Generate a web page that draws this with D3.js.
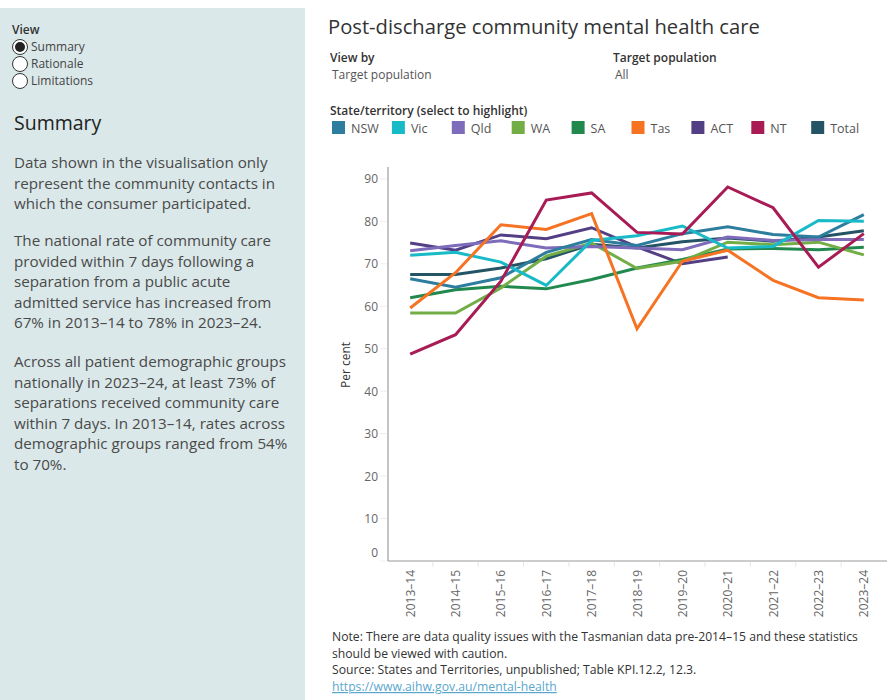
<!DOCTYPE html>
<html>
<head>
<meta charset="utf-8">
<script src="https://cdn.jsdelivr.net/npm/d3@7"></script>
<style>
  body { margin: 0; background: #fff; font-family: "Open Sans", "Noto Sans", sans-serif; }
  svg text { font-family: "Open Sans", "Noto Sans", sans-serif; }
</style>
</head>
<body>
<svg id="chart" width="890" height="700"></svg>
<script>
// categories and values
var years = ["2013–14","2014–15","2015–16","2016–17","2017–18","2018–19","2019–20","2020–21","2021–22","2022–23","2023–24"];
var states = ["NSW","Vic","Qld","WA","SA","Tas","ACT","NT","Total"];
var colors = ["#2d7d9f","#19bac8","#7e6bb9","#72ad45","#22894e","#f57323","#533f83","#a81b55","#245465"];

var nsw   = [66.5,64.5,66.7,72.7,75.7,74.3,77.1,78.7,76.9,76.3,81.6];
var vic   = [72.0,72.7,70.4,64.9,75.5,76.6,78.9,73.7,74.1,80.2,80.0];
var qld   = [73.1,74.3,75.4,73.7,74.1,73.7,73.3,76.3,75.5,75.7,75.7];
var wa    = [58.4,58.4,64.3,71.8,74.9,68.9,70.6,75.1,74.5,75.1,72.1];
var sa    = [62.0,63.9,64.7,64.1,66.3,69.0,71.0,73.5,73.6,73.3,73.9];
var tas   = [59.6,67.9,79.2,78.1,81.8,54.7,70.6,73.2,66.1,62.0,61.5];
var act   = [74.9,73.2,76.8,75.9,78.5,74.0,70.0,71.6,null,null,null];
var nt    = [48.7,53.3,65.9,85.0,86.7,77.4,77.0,88.1,83.2,69.2,77.1];
var total = [67.5,67.5,69.0,71.2,74.6,73.7,75.2,76.1,75.3,76.3,77.8];
var series = [nsw,vic,qld,wa,sa,tas,act,nt,total];
var yTicks = [0,10,20,30,40,50,60,70,80,90];

var svg = d3.select("#chart");

// ---- left panel
svg.append("rect").attr("x",0).attr("y",8).attr("width",305).attr("height",692).attr("fill","#dae8e9");
svg.append("text").attr("x",12).attr("y",34).text("View")
  .attr("font-size",12).attr("font-weight",600).attr("fill","#333");
var radios = ["Summary","Rationale","Limitations"];
radios.forEach(function(r,i){
  var cy = 47 + i*17;
  svg.append("circle").attr("cx",20).attr("cy",cy).attr("r",7.5)
    .attr("fill","#fff").attr("stroke","#333").attr("stroke-width",1);
  if (i==0) svg.append("circle").attr("cx",20).attr("cy",cy).attr("r",5).attr("fill","#222");
  svg.append("text").attr("x",31).attr("y",cy+4).text(r).attr("font-size",12).attr("fill","#444");
});
svg.append("text").attr("x",14).attr("y",130).text("Summary").attr("font-size",19.5).attr("fill","#222");

var paras = [
  ["Data shown in the visualisation only","represent the community contacts in","which the consumer participated."],
  ["The national rate of community care","provided within 7 days following a","separation from a public acute","admitted service has increased from","67% in 2013–14 to 78% in 2023–24."],
  ["Across all patient demographic groups","nationally in 2023–24, at least 73% of","separations received community care","within 7 days. In 2013–14, rates across","demographic groups ranged from 54%","to 70%."]
];
var paraTop = [168,246,367];
paras.forEach(function(p,i){
  p.forEach(function(line,j){
    svg.append("text").attr("x",14).attr("y",paraTop[i] + j*20.5).text(line)
      .attr("font-size",15.2).attr("fill","#4a4a4a");
  });
});

// ---- header
svg.append("text").attr("x",328).attr("y",34).text("Post-discharge community mental health care")
  .attr("font-size",20.2).attr("fill","#333");
svg.append("text").attr("x",330).attr("y",62).text("View by").attr("font-size",12).attr("font-weight",600).attr("fill","#333");
svg.append("text").attr("x",332).attr("y",79).text("Target population").attr("font-size",12).attr("fill","#555");
svg.append("text").attr("x",613).attr("y",62).text("Target population").attr("font-size",12).attr("font-weight",600).attr("fill","#333");
svg.append("text").attr("x",615).attr("y",79).text("All").attr("font-size",12).attr("fill","#555");
svg.append("text").attr("x",330).attr("y",115).text("State/territory (select to highlight)")
  .attr("font-size",12).attr("font-weight",600).attr("fill","#333");

// legend
var legend = svg.append("g").selectAll("g").data(states).enter().append("g")
  .attr("transform",function(d,i){ return "translate(" + (332 + i*59.9) + ",121)"; });
legend.append("rect").attr("width",13).attr("height",13).attr("fill",function(d,i){ return colors[i]; });
legend.append("text").attr("x",19).attr("y",11.5).text(function(d){ return d; })
  .attr("font-size",12.5).attr("fill","#555");

// ---- chart
var x = d3.scaleBand().domain(years).range([387.5,886.5]);
var y = d3.scaleLinear().domain([0,92.8]).range([561,167]);

// y axis
var yAxis = svg.append("g").attr("transform","translate(388,0)");
yAxis.append("line").attr("y1",167).attr("y2",561).attr("stroke","#888");
yAxis.selectAll(".tick").data(yTicks).enter().append("g")
  .each(function(d){
    var g = d3.select(this);
    var ty = y(d);
    g.append("line").attr("x1",-8).attr("x2",-1).attr("y1",ty).attr("y2",ty).attr("stroke","#eee");
    g.append("text").attr("x",-10).attr("y",(d==0 ? ty-9 : ty) + 4.5)
      .attr("text-anchor","end").attr("font-size",12).attr("fill","#666").text(d);
  });
svg.append("text").attr("transform","translate(350,365) rotate(-90)")
  .attr("text-anchor","middle").attr("font-size",12).attr("fill","#333").text("Per cent");

// x axis
var xAxis = svg.append("g").attr("transform","translate(0,561)");
xAxis.append("line").attr("x1",388).attr("x2",887).attr("stroke","#999");
xAxis.selectAll(".xt").data(years.slice(1)).enter().append("line")
  .attr("x1",function(d){ return x(d); }).attr("x2",function(d){ return x(d); })
  .attr("y1",1).attr("y2",6).attr("stroke","#e6e6e6");
xAxis.selectAll(".xl").data(years).enter().append("text")
  .attr("transform",function(d){ return "translate(" + (x(d) + x.bandwidth()/2 + 4.5) + ",9) rotate(-90)"; })
  .attr("text-anchor","end").attr("font-size",12).attr("fill","#666").text(function(d){ return d; });

// lines
var line = d3.line()
  .defined(function(d){ return d != null; })
  .x(function(d,i){ return x(years[i]) + x.bandwidth()/2; })
  .y(function(d){ return y(d); });

var order = [8,6,4,3,2,0,1,5,7];
svg.append("g").selectAll("path").data(order).enter().append("path")
  .attr("d",function(k){ return line(series[k]); })
  .attr("fill","none")
  .attr("stroke",function(k){ return colors[k]; })
  .attr("stroke-width",3)
  .attr("stroke-linejoin","miter");

// ---- notes
var notes = ["Note: There are data quality issues with the Tasmanian data pre-2014–15 and these statistics",
  "should be viewed with caution.",
  "Source: States and Territories, unpublished; Table KPI.12.2, 12.3."];
notes.forEach(function(n,i){
  svg.append("text").attr("x",332).attr("y",641 + i*16.7).text(n).attr("font-size",12.2).attr("fill","#333");
});
svg.append("text").attr("x",332).attr("y",691).text("https://www.aihw.gov.au/mental-health")
  .attr("font-size",12.2).attr("fill","#5aa7cc").attr("text-decoration","underline");
</script>
</body>
</html>
